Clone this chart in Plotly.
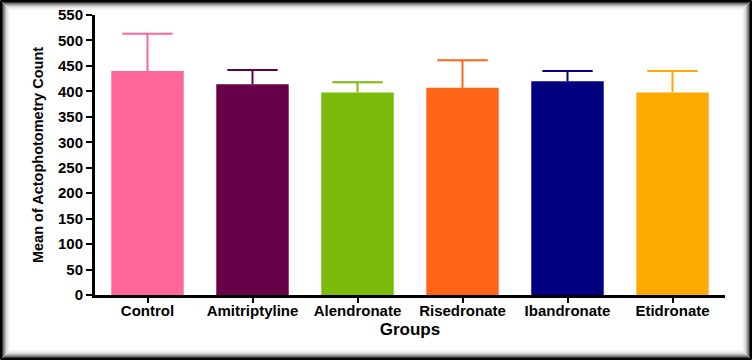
import plotly.graph_objects as go

groups = ["Control", "Amitriptyline", "Alendronate", "Risedronate", "Ibandronate", "Etidronate"]
means = [440, 414, 398, 407, 420, 398]
sem = [73, 28, 20, 54, 20, 42]
colors = ["#FF6699", "#660049", "#7ABB0A", "#FF6418", "#000080", "#FFAA00"]
y_ticks = list(range(0, 551, 50))

W, H = 752, 360
ML, MR, MT, MB = 95, 27, 15, 65
PW, PH = W - ML - MR, H - MT - MB

fig = go.Figure()
for g, m, e, c in zip(groups, means, sem, colors):
    fig.add_trace(go.Bar(
        x=[g], y=[m], marker=dict(color=c, line=dict(width=0)),
        error_y=dict(type="data", array=[e], arrayminus=[0], symmetric=False,
                     color=c, thickness=2, width=0),
        showlegend=False, hoverinfo="skip",
    ))
    # cap of the upper error bar
    fig.add_trace(go.Scatter(
        x=[g], y=[m + e], mode="markers",
        marker=dict(symbol="line-ew", size=36, line=dict(color=c, width=2)),
        showlegend=False, hoverinfo="skip",
    ))

def px2paper_x(px):
    return (px - ML) / PW

def px2paper_y(py):
    return (H - MB - py) / PH

shapes = []
levels = [0, 0, 60, 110, 150, 185, 210, 228, 240, 248, 252]
for i, lv in enumerate(levels):
    off = i + 0.5
    shapes.append(dict(
        type="rect", xref="paper", yref="paper",
        x0=px2paper_x(off), x1=px2paper_x(W - off),
        y0=px2paper_y(H - off), y1=px2paper_y(off),
        line=dict(color=f"rgb({lv},{lv},{lv})", width=1),
        fillcolor="rgba(0,0,0,0)", layer="below",
    ))

FAM = "Liberation Sans, Arial, sans-serif"
font_tick = dict(family=FAM, size=15, color="black", weight="bold")

fig.update_layout(
    width=W, height=H,
    margin=dict(l=ML, r=MR, t=MT, b=MB, autoexpand=False),
    paper_bgcolor="white", plot_bgcolor="white",
    barmode="overlay", bargap=0.31,
    shapes=shapes,
    xaxis=dict(
        range=[-0.5, 5.5], showgrid=False, zeroline=False,
        showline=True, linecolor="black", linewidth=3,
        ticks="outside", ticklen=5, tickwidth=2, tickcolor="black",
        tickfont=font_tick, ticklabelstandoff=-5,
        title=dict(text="Groups", standoff=6,
                   font=dict(family=FAM, size=17, color="black", weight="bold")),
    ),
    yaxis=dict(
        range=[0, 550], tickvals=y_ticks, showgrid=False, zeroline=False,
        showline=True, linecolor="black", linewidth=3,
        ticks="outside", ticklen=6, tickwidth=2, tickcolor="black",
        tickfont=font_tick,
        title=dict(text="Mean of Actophotometry Count", standoff=11,
                   font=dict(family=FAM, size=14.5, color="black", weight="bold")),
    ),
)

fig.write_html("out.html", config={"displayModeBar": False},
               post_script="document.body.style.margin='0';document.body.style.overflow='hidden';")
